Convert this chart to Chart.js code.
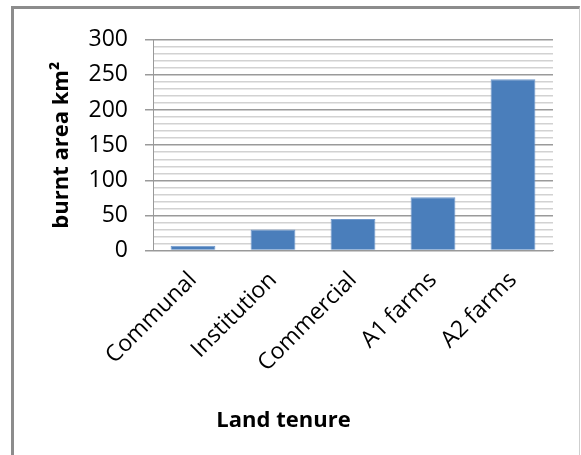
<!DOCTYPE html>
<html>
<head>
<meta charset="utf-8">
<script src="https://cdn.jsdelivr.net/npm/chart.js@4.4.0/dist/chart.umd.min.js"></script>
<style>
  html, body { margin: 0; padding: 0; background: #fff; overflow: hidden; }
  #frame {
    position: absolute; left: 11px; top: 6px;
    width: 565px; height: 446px;
    border-left: 3px solid #8c8c8c;
    border-top: 3px solid #8c8c8c;
    border-right: 1px solid #cfcfcf;
    background: #fff;
  }
  canvas { display: block; }
</style>
</head>
<body>
<div id="frame"><canvas id="barChart" width="565" height="446"></canvas></div>
<script>
// Chart data
const categories = ['Communal', 'Institution', 'Commercial', 'A1 farms', 'A2 farms']
const burntArea = [7, 30, 45, 76, 244]
const yTicks = [0, 50, 100, 150, 200, 250, 300]

const fontFamily = '"Open Sans", Lato, sans-serif'

const chartConfig = {
    type: 'bar',
    data: {
        labels: categories,
        datasets: [
            {
                data: burntArea,
                backgroundColor: '#4a7ebb',
                borderColor: '#6f98cc',
                borderWidth: 1,
                barPercentage: 0.56,
                categoryPercentage: 1
            }
        ]
    },
    options: {
        responsive: false,
        devicePixelRatio: 1,
        animation: false,
        layout: {
            padding: { left: 0, top: 29, right: 26, bottom: 0 }
        },
        plugins: {
            legend: { display: false },
            tooltip: { enabled: false },
            title: {
                display: true,
                position: 'bottom',
                text: 'Land tenure',
                color: '#000',
                font: { family: fontFamily, size: 22, weight: 'bold' },
                padding: { top: 0, bottom: 21 }
            }
        },
        scales: {
            x: {
                grid: { display: false },
                border: { color: '#999', width: 1 },
                ticks: {
                    color: '#000',
                    font: { family: fontFamily, size: 23 },
                    minRotation: 45,
                    maxRotation: 45,
                    padding: 8
                },
                afterFit: function (scale) { scale.height = 157 }
            },
            y: {
                min: 0,
                max: 300,
                border: { color: '#999', width: 1 },
                grid: {
                    color: ctx => yTicks.includes(ctx.tick.value) ? '#9a9a9a' : '#d2d2d2',
                    lineWidth: 1.5,
                    tickLength: 8,
                    tickColor: ctx => yTicks.includes(ctx.tick.value) ? '#9a9a9a' : 'rgba(0,0,0,0)'
                },
                ticks: {
                    stepSize: 10,
                    autoSkip: false,
                    color: '#000',
                    padding: 17,
                    font: { family: fontFamily, size: 23 },
                    callback: value => yTicks.includes(value) ? value : ''
                },
                title: {
                    display: true,
                    text: 'burnt area km²',
                    color: '#000',
                    font: { family: fontFamily, size: 22, weight: 'bold' },
                    padding: { top: 35, bottom: 0 }
                },
                afterFit: function (scale) { scale.width = 139 }
            }
        }
    }
}

var ctx = document.getElementById('barChart').getContext('2d')
var barChart = new Chart(ctx, chartConfig)
</script>
</body>
</html>
